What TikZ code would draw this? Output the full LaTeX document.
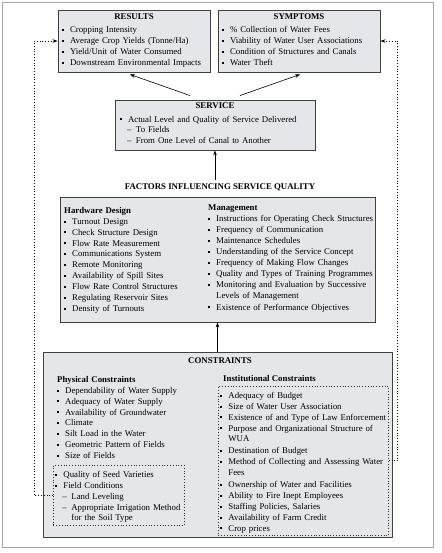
\documentclass[tikz,border=0pt]{standalone}
\usepackage{fontspec}
\setmainfont{Liberation Serif}
\usetikzlibrary{arrows.meta,positioning}
\definecolor{panelgray}{RGB}{228,230,233}
\newcommand{\itm}[1]{\par\noindent\makebox[8pt][l]{\rule[1.7pt]{2pt}{2pt}}\parbox[t]{\dimexpr\hsize-8pt\relax}{\raggedright #1\strut}}
\newcommand{\subitm}[1]{\par\noindent\hspace*{7pt}\makebox[9pt][l]{--}\parbox[t]{\dimexpr\hsize-16pt\relax}{\raggedright #1\strut}}
\newcommand{\boxtitle}[1]{{\centering\bfseries #1\par}\vspace{2.5pt}}

\begin{document}
\begin{tikzpicture}[
  x=1pt, y=-1pt,
  font=\fontsize{8.8}{10.9}\selectfont, >={Stealth[length=5pt,width=3.6pt]},
  frame/.style={draw=black!35, line width=0.6pt},
  panel/.style={draw=black!75, line width=0.9pt, fill=panelgray, inner xsep=4pt, inner ysep=0pt, align=left},
  txt/.style={align=left, inner sep=0pt, anchor=north west},
  dotbox/.style={draw=black!80, dotted, line width=0.8pt, inner xsep=2pt, inner ysep=1pt, anchor=north west, align=left},
  fb/.style={->, dotted, line width=0.8pt},
  link/.style={->, line width=0.6pt}]
\useasboundingbox (0,0) rectangle (441,553);
\draw[frame] (2,2) rectangle (433,547);
% ---- outcomes
\node[panel, text width=144pt, minimum height=62pt] (results) at (134,41) {\boxtitle{RESULTS}%
  \itm{Cropping Intensity}\itm{Average Crop Yields (Tonne/Ha)}\itm{Yield/Unit of Water Consumed}\itm{Downstream Environmental Impacts}};
\node[panel, text width=154pt, minimum height=62pt] (symptoms) at (299,41) {\boxtitle{SYMPTOMS}%
  \itm{\% Collection of Water Fees}\itm{Viability of Water User Associations}\itm{Condition of Structures and Canals}\itm{Water Theft}};
\node[panel, text width=190pt, inner xsep=5pt, minimum height=50pt] (service) at (215,125) {\boxtitle{SERVICE}%
  \itm{Actual Level and Quality of Service Delivered}\subitm{To Fields}\subitm{From One Level of Canal to Another}};
\draw[link] ([xshift=-25pt,yshift=4pt]service.north) -- ([xshift=-4pt,yshift=-2pt]results.south);
\draw[link] ([xshift=25pt,yshift=4pt]service.north) -- ([xshift=1pt,yshift=-2pt]symptoms.south);
% ---- factors
\node[font=\fontsize{8.8}{10.9}\selectfont\bfseries] (ftitle) at (220,187) {FACTORS INFLUENCING SERVICE QUALITY};
\draw[link] (ftitle.north -| service.south) -- (service.south);
\node[panel, minimum width=315pt, minimum height=125pt] (factors) at (217.5,259.5) {};
\node[txt, text width=140pt] (hw) at (64,207) {\textbf{Hardware Design}%
  \itm{Turnout Design}\itm{Check Structure Design}\itm{Flow Rate Measurement}\itm{Communications System}%
  \itm{Remote Monitoring}\itm{Availability of Spill Sites}\itm{Flow Rate Control Structures}%
  \itm{Regulating Reservoir Sites}\itm{Density of Turnouts}};
\node[txt, text width=170pt] (mgmt) at (208,205) {\textbf{Management}%
  \itm{Instructions for Operating Check Structures}\itm{Frequency of Communication}\itm{Maintenance Schedules}%
  \itm{Understanding of the Service Concept}\itm{Frequency of Making Flow Changes}%
  \itm{Quality and Types of Training Programmes}\itm{Monitoring and Evaluation by Successive\\Levels of Management}%
  \itm{Existence of Performance Objectives}};
% ---- constraints
\node[panel, minimum width=349pt, minimum height=185pt] (constr) at (217.5,444.5) {};
\draw[link] (constr.north) -- (factors.south);
\node[font=\fontsize{8.8}{10.9}\selectfont\bfseries] (ctitle) at (220,361) {CONSTRAINTS};
\node[txt, text width=150pt] (phys) at (57,376) {\textbf{Physical Constraints}%
  \itm{Dependability of Water Supply}\itm{Adequacy of Water Supply}\itm{Availability of Groundwater}%
  \itm{Climate}\itm{Silt Load in the Water}\itm{Geometric Pattern of Fields}\itm{Size of Fields}};
\node[dotbox, text width=127pt] (seed) at (53,465) {\itm{Quality of Seed Varieties}\itm{Field Conditions}%
  \subitm{Land Leveling}\subitm{Appropriate Irrigation Method\\for the Soil Type}};
\node[txt] (insthead) at (223,375) {\textbf{Institutional Constraints}};
\node[dotbox, text width=166pt] (inst) at (218,386) {\itm{Adequacy of Budget}\itm{Size of Water User Association}%
  \itm{Existence of and Type of Law Enforcement}\itm{Purpose and Organizational Structure of\\WUA}%
  \itm{Destination of Budget}\itm{Method of Collecting and Assessing Water\\Fees}\itm{Ownership of Water and Facilities}%
  \itm{Ability to Fire Inept Employees}\itm{Staffing Policies, Salaries}\itm{Availability of Farm Credit}\itm{Crop prices}};
% ---- feedback
\draw[fb] (seed.west) -- ++(-19,0) |- (results.west);
\draw[fb] (inst.east) -- ++(9,0) |- (symptoms.east);
\end{tikzpicture}
\end{document}
